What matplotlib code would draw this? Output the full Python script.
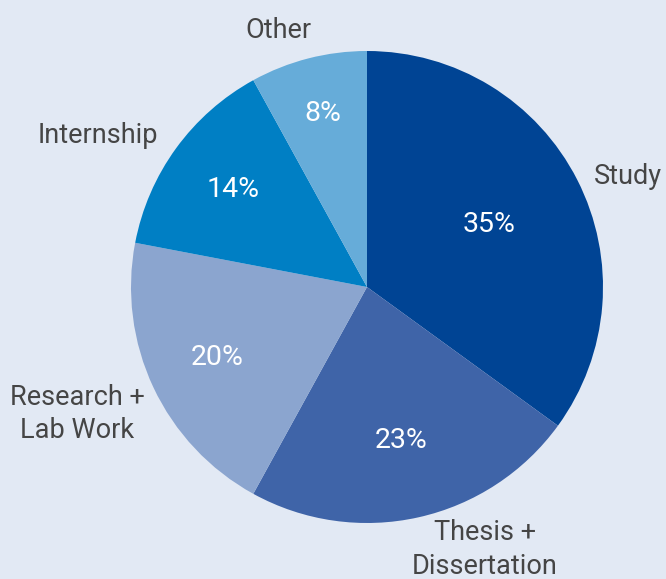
import matplotlib
matplotlib.use("Agg")
import matplotlib.pyplot as plt
import numpy as np

categories = ["Study", "Thesis +\nDissertation", "Research +\nLab Work", "Internship", "Other"]
shares = [35, 23, 20, 14, 8]
colors = ["#004494", "#3F64A8", "#8BA5CF", "#007FC4", "#66ACD9"]

# label placement (radius units, degrees) relative to pie centre
pct_dist = [0.58, 0.665, 0.70, 0.70, 0.76]
lab_pos = [(1.20, 23.0), (1.22, -65.8), (1.34, -156.3), (1.31, 150.7), (1.15, 109.0)]

BG = "#E2E9F4"
W, H = 666, 579
cx, cy, R = 367, 292, 236

fig = plt.figure(figsize=(W / 100, H / 100), dpi=100)
fig.patch.set_facecolor(BG)
ax = fig.add_axes([0, 0, 1, 1])
ax.set_facecolor(BG)

wedges, _ = ax.pie(shares, colors=colors, startangle=90, counterclock=False,
                   center=(cx, cy), radius=R, frame=True,
                   wedgeprops=dict(linewidth=0))
ax.set_xlim(0, W)
ax.set_ylim(0, H)
ax.axis("off")

font = "Roboto"
for w, val, d in zip(wedges, shares, pct_dist):
    mid = np.deg2rad((w.theta1 + w.theta2) / 2)
    ax.text(cx + d * R * np.cos(mid), cy + d * R * np.sin(mid), f"{val}%",
            color="white", fontsize=20.5, family=font, ha="center", va="center")

for name, (d, ang) in zip(categories, lab_pos):
    a = np.deg2rad(ang)
    ax.text(cx + d * R * np.cos(a), cy + d * R * np.sin(a), name,
            color="#454545", fontsize=19.5, family=font, ha="center", va="center",
            linespacing=1.32)

fig.savefig("out.png", dpi=100, facecolor=BG)
